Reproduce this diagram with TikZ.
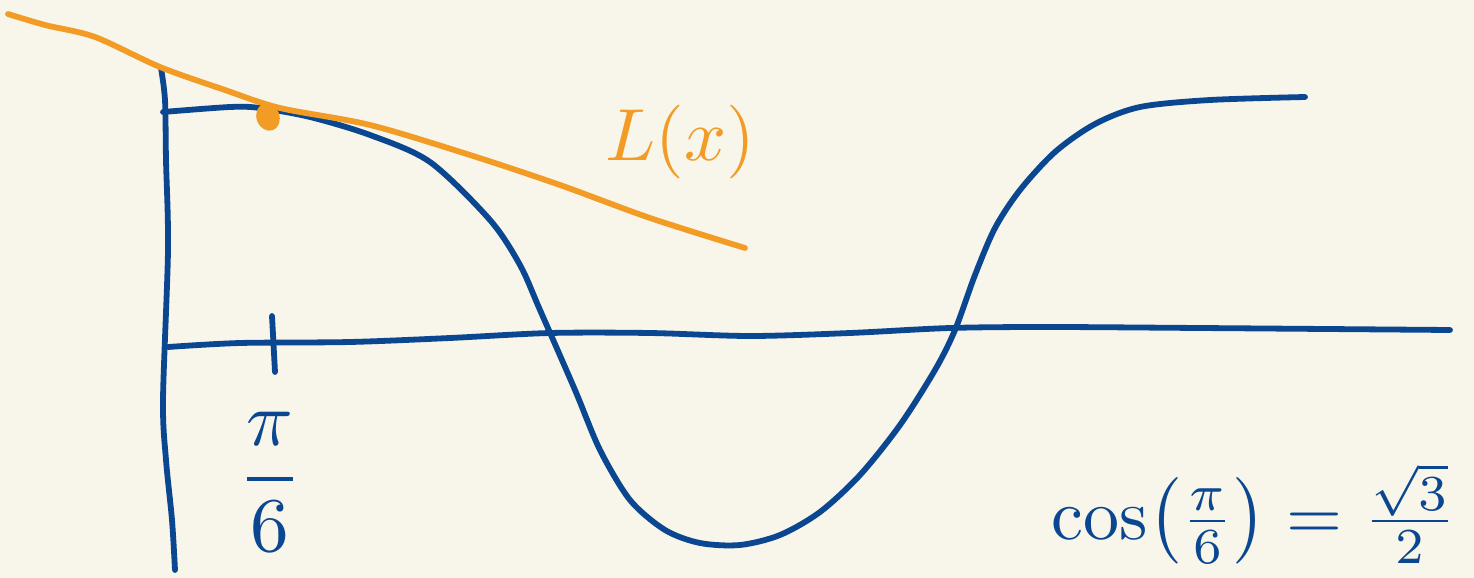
\documentclass[tikz,border=0pt]{standalone}
\usepackage{amsmath}
\usetikzlibrary{positioning,shapes.geometric}
\definecolor{paper}{HTML}{F8F5EA}
\definecolor{inkblue}{HTML}{0A4790}
\definecolor{inkorange}{HTML}{F39C25}

\begin{document}
\begin{tikzpicture}[
  x=0.02cm, y=-0.02cm,
  pen/.style={draw=inkblue, line width=3.3pt, line cap=round, line join=round},
  penor/.style={draw=inkorange, line width=3.3pt, line cap=round, line join=round},
  bluelbl/.style={text=inkblue, inner sep=0pt},
  orlbl/.style={text=inkorange, inner sep=0pt},
]

% ---------- paper ----------
\fill[paper] (0,0) rectangle (1474,578);
\useasboundingbox (0,0) rectangle (1474,578);

% ---------- axes ----------
\draw[pen] plot[smooth] coordinates {(161,68) (165,100) (166,160) (168,250)
  (163,400) (166,460) (172,520) (175,570)};
\draw[pen] plot[smooth] coordinates {(168,347) (240,343) (350,342) (450,338)
  (550,333) (650,333) (750,336) (850,333) (950,328) (1050,327) (1200,328) (1450,330)};

% ---------- tick at pi/6 ----------
\coordinate (tickT) at (272,316);
\coordinate (tickB) at (275,372);
\draw[pen] (tickT) -- (tickB);

% ---------- cosine curve ----------
\draw[pen] plot[smooth] coordinates {(163,112) (230,107) (260,108) (310,117)
  (370,135) (430,162) (490,220) (520,265) (540,310) (575,390) (600,450)
  (630,500) (665,530) (700,543) (740,545) (780,535) (820,512) (860,475)
  (900,425) (935,370) (955,330) (975,275) (995,228) (1020,190) (1055,152)
  (1095,124) (1140,107) (1210,100) (1305,97)};

% ---------- tangent line L(x) ----------
\draw[penor] plot[smooth] coordinates {(8,14) (45,25) (95,37) (160,67)
  (225,90) (280,108) (370,125) (470,155) (560,185) (650,218) (745,248)};
\node[fill=inkorange, ellipse, minimum width=0.46cm, minimum height=0.56cm,
  inner sep=0pt, rotate=20] (touch) at (268,117) {};

% ---------- labels ----------
\node[orlbl, scale=4.2] (lx) at (680,142) {$L(x)$};
\node[bluelbl, scale=4.4] (pisix) at (270,482) {$\dfrac{\pi}{6}$};
\node[bluelbl, scale=4.1] (cosval) at (1254,514)
  {$\cos\!\left(\frac{\pi}{6}\right)=\frac{\sqrt{3}}{2}$};

\end{tikzpicture}
\end{document}
